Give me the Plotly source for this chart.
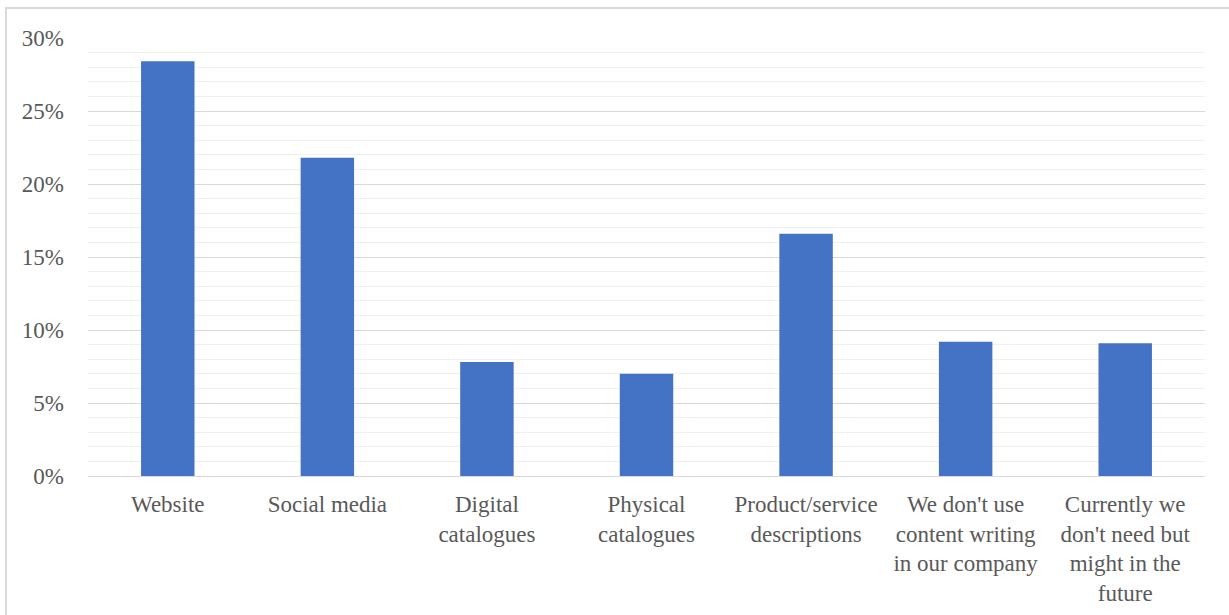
import plotly.graph_objects as go

# Survey responses: where companies use content writing
categories = [
    "Website",
    "Social media",
    "Digital<br>catalogues",
    "Physical<br>catalogues",
    "Product/service<br>descriptions",
    "We don't use<br>content writing<br>in our company",
    "Currently we<br>don't need but<br>might in the<br>future",
]
shares = [28.4, 21.8, 7.8, 7.0, 16.6, 9.2, 9.1]  # percent of respondents

tick_values = [0, 5, 10, 15, 20, 25, 30]
tick_labels = ["0%", "5%", "10%", "15%", "20%", "25%", "30%"]

W, H = 1229, 615
L, R, T, B = 88, 24, 38, 139
plot_w = W - L - R
plot_h = H - T - B

font = dict(family="Liberation Serif, Times New Roman, serif", size=23, color="#595959")

fig = go.Figure(
    go.Bar(
        x=categories,
        y=shares,
        marker=dict(color="#4472C4", line=dict(width=0)),
        hoverinfo="skip",
    )
)

fig.update_layout(
    width=W,
    height=H,
    margin=dict(l=L, r=R, t=T, b=B),
    paper_bgcolor="white",
    plot_bgcolor="white",
    font=font,
    bargap=0.665,
    showlegend=False,
    shapes=[
        # chart frame
        dict(
            type="rect",
            xref="paper",
            yref="paper",
            x0=(6 - L) / plot_w,
            x1=(W + 10 - L) / plot_w,
            y0=-(H + 10 - (H - B)) / plot_h,
            y1=((H - B) - 8) / plot_h,
            line=dict(color="#d9d9d9", width=2),
            fillcolor="rgba(0,0,0,0)",
            layer="below",
        )
    ],
)

fig.update_xaxes(
    automargin=False,
    showgrid=False,
    showline=True,
    linecolor="#d9d9d9",
    linewidth=1,
    ticks="",
    tickfont=font,
    ticklabelstandoff=7,
    fixedrange=True,
)

fig.update_yaxes(
    automargin=False,
    range=[0, 30],
    tickvals=tick_values,
    ticktext=tick_labels,
    showgrid=True,
    gridcolor="#d9d9d9",
    gridwidth=1,
    minor=dict(dtick=1, showgrid=True, gridcolor="#f0f0f0", gridwidth=1),
    zeroline=False,
    showline=False,
    ticks="",
    tickfont=font,
    ticklabelstandoff=23,
    fixedrange=True,
)

fig.write_html("out.html")
